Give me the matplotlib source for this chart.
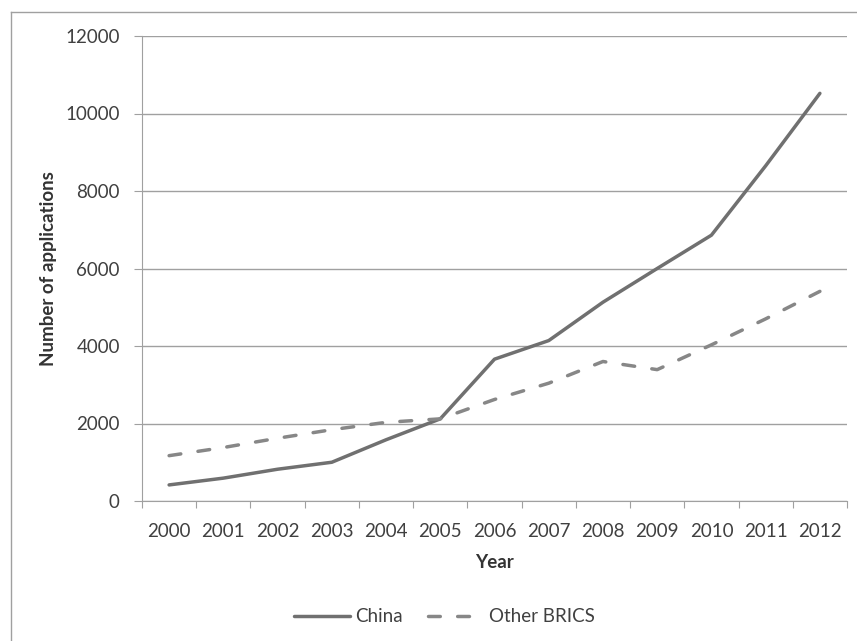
import matplotlib
matplotlib.use("Agg")
import matplotlib.pyplot as plt
from matplotlib.lines import Line2D
import numpy as np

# values
years = ["2000", "2001", "2002", "2003", "2004", "2005", "2006",
         "2007", "2008", "2009", "2010", "2011", "2012"]
china = [415, 590, 820, 1000, 1580, 2120, 3660, 4140, 5130, 6000, 6860, 8650, 10520]
other_brics = [1170, 1380, 1620, 1840, 2030, 2120, 2620, 3040, 3600, 3390, 4030, 4700, 5410]

plt.rcParams['font.family'] = ['Lato', 'DejaVu Sans']
text_col = "#404040"
grid_col = "#a0a0a0"

fig = plt.figure(figsize=(8.57, 6.41), dpi=100)
W, H = 857, 641
ax = fig.add_axes([142 / W, 1 - 501 / H, (847 - 142) / W, (501 - 36) / H])

x = np.arange(len(years)) + 0.5
ax.plot(x, china, color="#707070", lw=2.5, solid_capstyle="round",
        solid_joinstyle="round", label="China")
ax.plot(x, other_brics, color="#878787", lw=2.5, dashes=(3.4, 5.0),
        dash_capstyle="round", label="Other BRICS")

ax.set_xlim(0, len(years))
ax.set_ylim(0, 12000)
ax.set_yticks(range(0, 12001, 2000))
ax.yaxis.grid(True, color=grid_col, lw=1)
ax.set_axisbelow(True)

ax.set_xticks(np.arange(len(years) + 1))
ax.set_xticklabels([])
ax.set_xticks(x, minor=True)
ax.set_xticklabels(years, minor=True)
ax.tick_params(axis="x", which="major", length=5, color=grid_col, direction="out")
ax.tick_params(axis="x", which="minor", length=0, pad=16, labelsize=13.5, labelcolor=text_col)
ax.tick_params(axis="y", length=6, color=grid_col, pad=10, labelsize=13.5, labelcolor=text_col)

for side in ["top", "right"]:
    ax.spines[side].set_visible(False)
for side in ["left", "bottom"]:
    ax.spines[side].set_color(grid_col)

ax.set_xlabel("Year", fontweight="bold", fontsize=13.5, color="#333333", labelpad=10)
ax.set_ylabel("Number of applications", fontweight="bold", fontsize=13.5,
              color="#333333", labelpad=6)

fig.legend(loc="center", bbox_to_anchor=(444.5 / W, 1 - 617 / H), ncol=2,
           frameon=False, fontsize=13.5, handlelength=3.0, handletextpad=0.3,
           columnspacing=1.3, labelcolor=text_col)

# outer chart border (left and top edges visible)
fig.add_artist(Line2D([11 / W, 11 / W], [0, 1 - 12 / H], transform=fig.transFigure,
                      color=grid_col, lw=1))
fig.add_artist(Line2D([11 / W, 1], [1 - 12 / H, 1 - 12 / H], transform=fig.transFigure,
                      color=grid_col, lw=1))

fig.savefig("out.png", dpi=100)
